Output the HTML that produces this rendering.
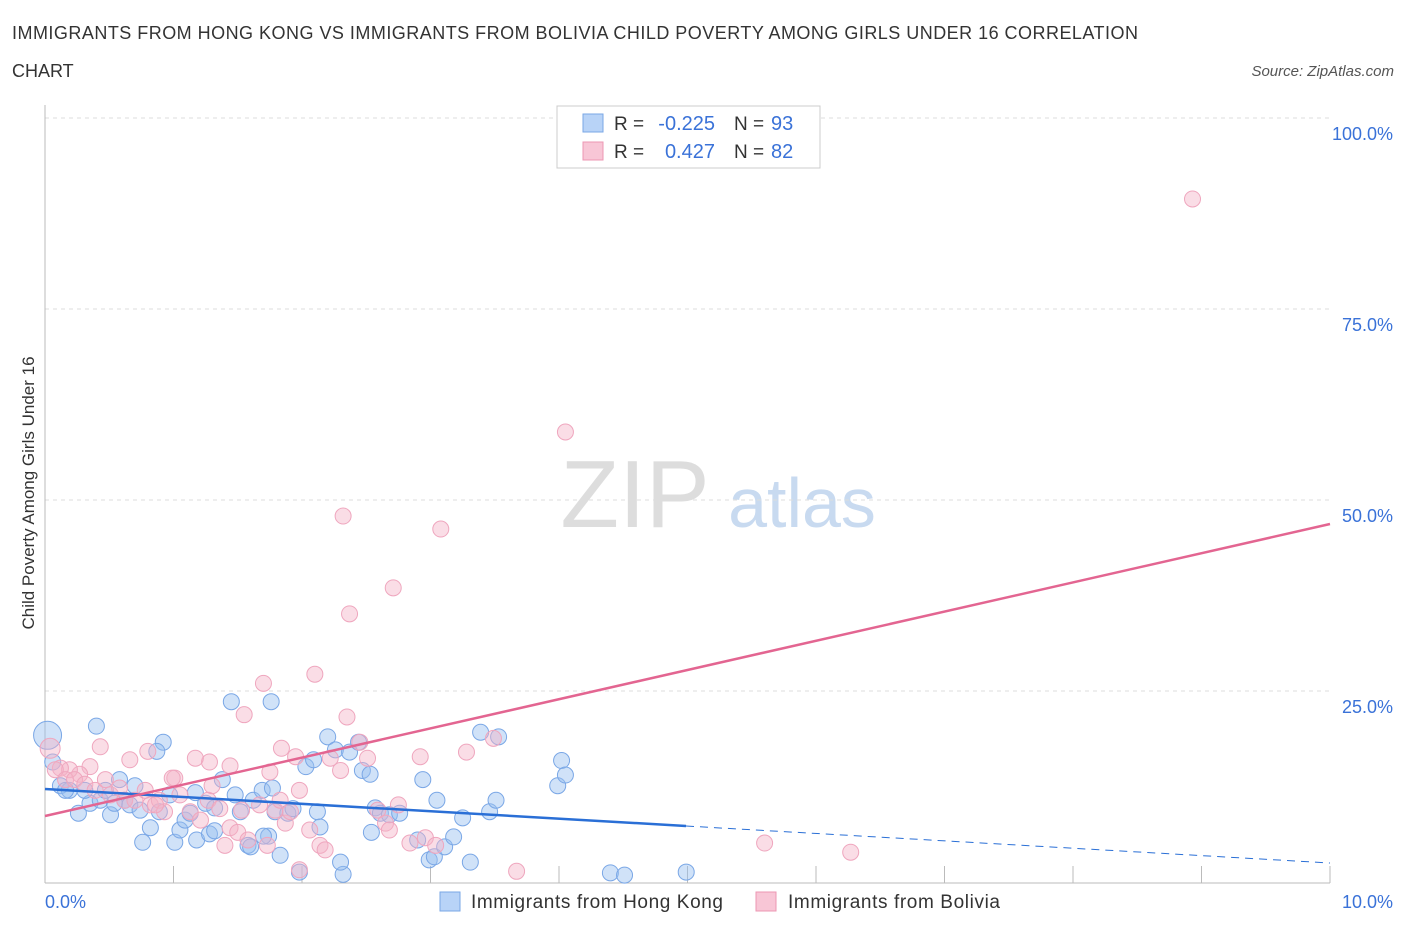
<!DOCTYPE html>
<html><head><meta charset="utf-8"><style>
body{margin:0;background:#fff;font-family:"Liberation Sans",sans-serif;}
svg text{font-family:"Liberation Sans",sans-serif;}
</style></head><body>
<svg id="c" width="1406" height="930">
<text x="12" y="39" font-size="18" fill="#333" textLength="1126">IMMIGRANTS FROM HONG KONG VS IMMIGRANTS FROM BOLIVIA CHILD POVERTY AMONG GIRLS UNDER 16 CORRELATION</text>
<text x="12" y="77" font-size="18" fill="#333">CHART</text>
<text x="1394" y="76" font-size="15" fill="#555" font-style="italic" text-anchor="end">Source: ZipAtlas.com</text>
<text x="635" y="527" font-size="96" fill="#ddd" font-family="Liberation Serif" text-anchor="middle">ZIP</text>
<text x="802" y="527" font-size="70" fill="#c8daf0" text-anchor="middle">atlas</text>
<text x="34" y="493" font-size="17" fill="#333" text-anchor="middle" transform="rotate(-90 34 493)">Child Poverty Among Girls Under 16</text>
<g id="grid"></g><g id="pts"></g><g id="lines"></g>
<g>
<rect x="557" y="106" width="263" height="62" fill="#fff" stroke="#ccc"/>
<rect x="583" y="114" width="20" height="18" fill="#b8d3f7" stroke="#7aa7e6"/>
<text x="614" y="130" font-size="19" fill="#333">R =</text>
<text x="715" y="130" font-size="20" fill="#3a72d8" text-anchor="end">-0.225</text>
<text x="734" y="130" font-size="19" fill="#333">N =</text>
<text x="771" y="130" font-size="20" fill="#3a72d8">93</text>
<rect x="583" y="142" width="20" height="18" fill="#f8c6d6" stroke="#ec97b3"/>
<text x="614" y="158" font-size="19" fill="#333">R =</text>
<text x="715" y="158" font-size="20" fill="#3a72d8" text-anchor="end">0.427</text>
<text x="734" y="158" font-size="19" fill="#333">N =</text>
<text x="771" y="158" font-size="20" fill="#3a72d8">82</text>
</g>
<g>
<rect x="440" y="892" width="20" height="19" fill="#b8d3f7" stroke="#7aa7e6"/>
<text x="471" y="908" font-size="19" fill="#333" textLength="252">Immigrants from Hong Kong</text>
<rect x="756" y="892" width="20" height="19" fill="#f8c6d6" stroke="#ec97b3"/>
<text x="788" y="908" font-size="19" fill="#333" textLength="212">Immigrants from Bolivia</text>
</g>
</svg>
<script>
const yTicks=[25,50,75,100];
const xTickLabels=["0.0%","10.0%"];
const blueX=[0.40,0.92,1.45,1.76,0.02,0.12,0.19,0.26,0.35,0.43,0.51,0.58,0.62,0.70,0.76,0.82,0.87,0.89,0.97,1.01,1.05,1.09,1.13,1.18,1.25,1.28,1.32,1.38,1.48,1.52,1.58,1.62,1.69,1.74,1.77,1.79,1.83,1.89,1.93,1.98,2.03,2.09,2.12,2.14,2.20,2.26,2.32,2.37,2.44,2.47,2.53,2.54,2.57,2.61,2.68,2.76,2.90,2.94,2.99,3.03,3.05,3.11,3.18,3.25,3.31,3.39,3.46,3.51,3.53,3.99,4.02,4.05,4.40,4.51,4.99,0.06,0.16,0.31,0.47,0.54,0.66,0.74,1.17,1.32,1.60,1.70,2.30];
const blueY=[20.4,18.3,23.6,23.6,19.2,12.6,12.0,9.0,10.3,10.7,8.8,13.4,10.7,12.6,5.2,7.1,17.1,9.2,11.4,5.2,6.8,8.1,9.0,5.5,10.3,6.3,6.7,13.4,11.4,9.2,4.8,10.7,12.0,6.0,12.3,9.2,3.5,9.0,9.6,1.3,15.1,16.0,9.2,7.2,19.0,17.3,1.0,17.0,18.3,14.6,14.1,6.5,9.7,9.0,8.8,9.0,5.5,13.4,2.9,3.3,10.7,4.6,5.9,8.4,2.6,19.6,9.2,10.7,19.0,12.6,15.9,14.0,1.2,0.9,1.3,15.7,12.0,12.0,12.0,10.3,10.1,9.4,11.7,9.7,4.6,6.0,2.6];
const pinkX=[8.93,4.05,2.32,3.08,2.71,2.37,2.10,1.70,2.35,1.55,3.49,3.28,2.92,2.45,1.84,1.95,1.75,1.44,1.28,1.17,1.01,0.80,0.66,0.43,0.35,0.27,0.19,0.12,0.04,0.08,0.16,0.23,0.31,0.39,0.47,0.51,0.58,0.62,0.70,0.78,0.82,0.89,0.93,0.99,1.05,1.13,1.21,1.27,1.30,1.36,1.40,1.44,1.50,1.53,1.58,1.67,1.73,1.79,1.83,1.87,1.91,1.98,2.06,2.14,2.18,2.22,2.51,2.59,2.65,2.68,2.75,2.84,2.96,3.04,3.67,5.60,6.27,1.98,2.30,0.86];
const pinkY=[89.4,58.9,47.9,46.2,38.5,35.1,27.2,26.0,21.6,21.9,18.8,17.0,16.4,18.3,17.5,16.4,14.4,15.2,15.7,16.2,13.6,17.1,16.0,17.7,15.1,14.1,14.7,14.9,17.5,14.7,13.4,13.4,12.8,12.0,13.4,11.4,12.3,10.7,10.7,12.0,10.1,10.7,9.2,13.6,11.4,9.2,8.1,10.7,12.6,9.6,4.8,7.1,6.5,9.4,5.5,10.1,4.8,9.4,10.7,7.7,9.2,1.6,6.8,4.8,4.2,16.2,16.2,9.4,7.7,6.8,10.1,5.1,5.8,4.8,1.4,5.1,3.9,12.0,14.6,10.1];
const X=v=>45+v/10*1285, Y=v=>882-v/100*764;
const ns="http://www.w3.org/2000/svg";
function mk(t,a,p){const e=document.createElementNS(ns,t);for(const k in a)e.setAttribute(k,a[k]);p.appendChild(e);return e;}
const g=document.getElementById('grid');
for(const t of yTicks){const l=mk('line',{x1:45,x2:1330,y1:Y(t),y2:Y(t),stroke:'#ddd','stroke-dasharray':'4,4'},g);


const tx=mk('text',{x:1393,y:Y(t)+22,'font-size':18,fill:'#3a72d8','text-anchor':'end'},g);tx.textContent=t.toFixed(1)+'%';

}
mk('line',{x1:45,x2:1330,y1:118,y2:118,stroke:'#ddd','stroke-dasharray':'4,4'},g);
mk('line',{x1:45,x2:45,y1:105,y2:883,stroke:'#bbb'},g);
mk('line',{x1:45,x2:1330,y1:883,y2:883,stroke:'#bbb'},g);
for(let i=1;i<=10;i++){mk('line',{x1:X(i),x2:X(i),y1:866,y2:883,stroke:'#bbb'},g);}
xTickLabels.forEach((s,i)=>{const tx=mk('text',{x:i?1393:45,y:908,'font-size':18,fill:'#3a72d8','text-anchor':i?'end':'start'},g);tx.textContent=s;

});
const p=document.getElementById('pts');
blueX.forEach((x,i)=>{const c=mk('circle',{cx:X(x),cy:Y(blueY[i]),r:i==4?14:8,fill:'rgba(150,190,240,0.45)',stroke:'#7aa7e6','stroke-width':1},p);

});
pinkX.forEach((x,i)=>{const c=mk('circle',{cx:X(x),cy:Y(pinkY[i]),r:i==28?10:8,fill:'rgba(245,180,200,0.45)',stroke:'#efa6be','stroke-width':1},p);

});
const L=document.getElementById('lines');
let a=mk('line',{x1:45,y1:789,x2:686,y2:826,stroke:'#2a6fd6','stroke-width':2.5},L);


mk('line',{x1:686,y1:826,x2:1330,y2:863,stroke:'#2a6fd6','stroke-width':1,'stroke-dasharray':'8,6'},L);
let b=mk('line',{x1:45,y1:816,x2:1330,y2:524,stroke:'#e36591','stroke-width':2.5},L);


</script>
</body></html>
